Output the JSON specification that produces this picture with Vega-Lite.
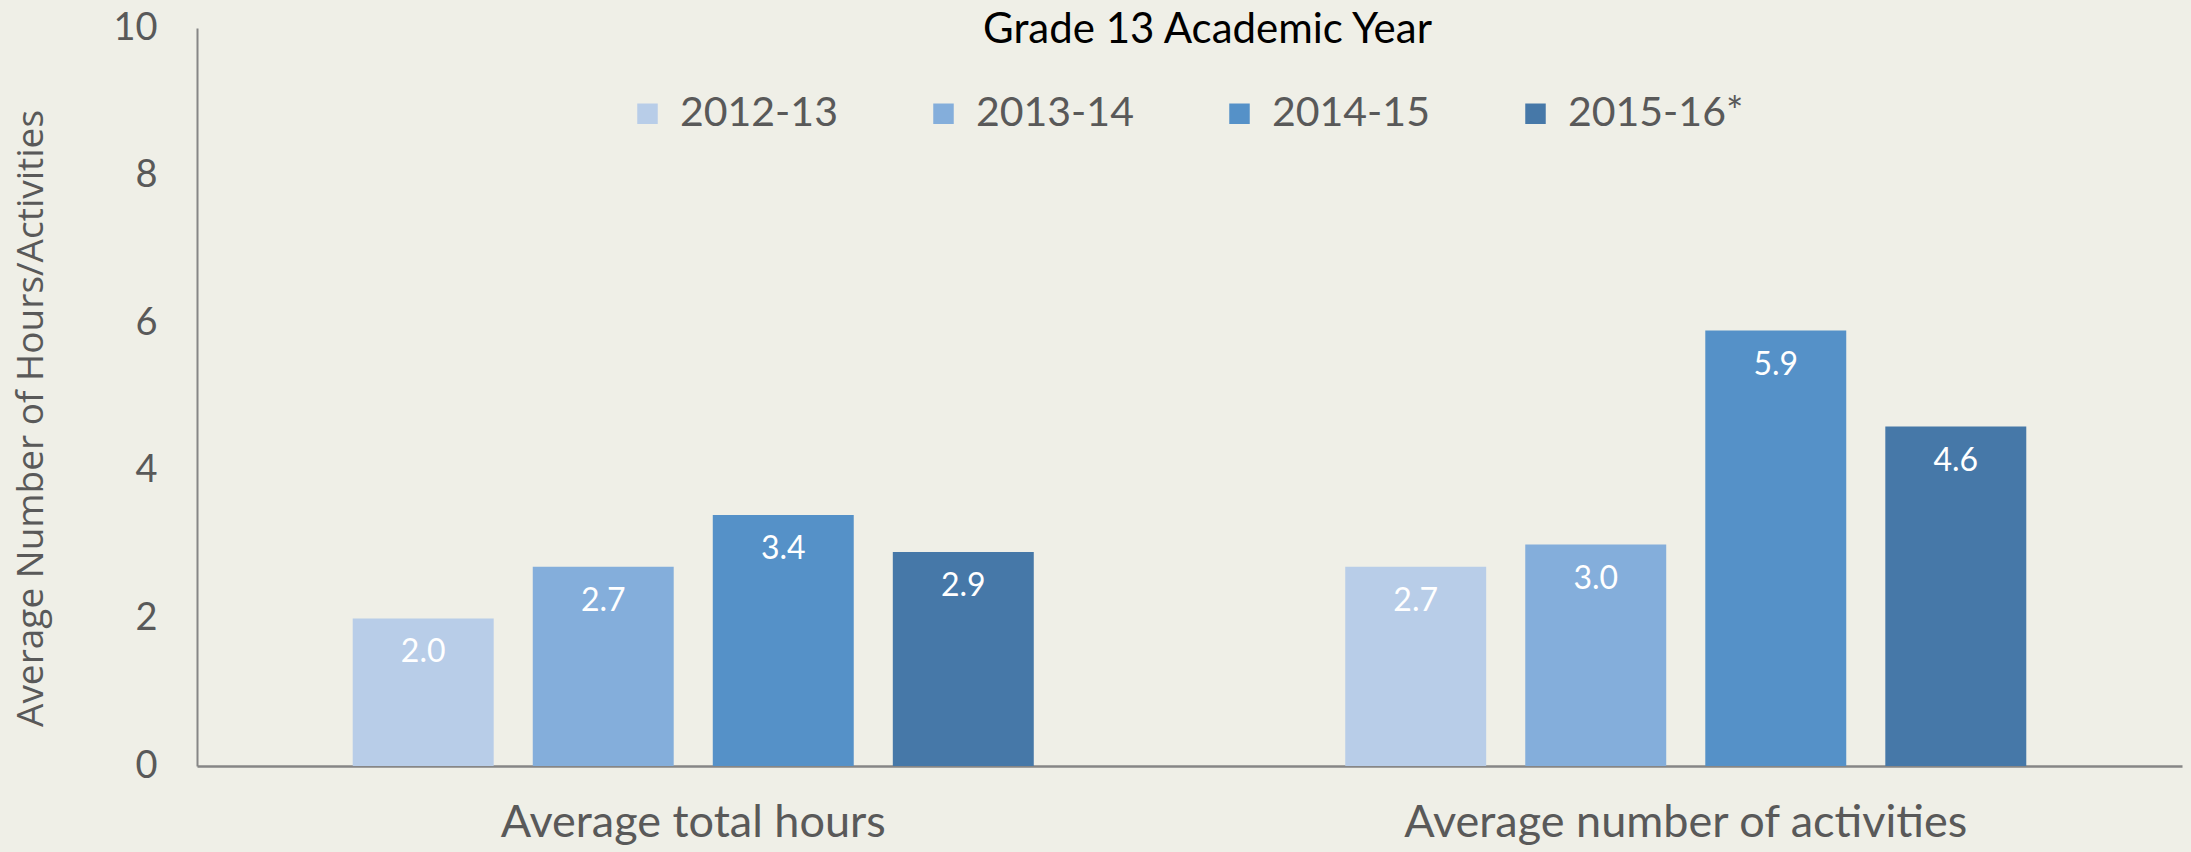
{
  "$schema": "https://vega.github.io/schema/vega-lite/v6.json",
  "autosize": {"type": "none"},
  "width": 1985,
  "height": 738,
  "padding": {"left": 197, "top": 28, "right": 9, "bottom": 86},
  "background": "#EFEFE7",
  "config": {
    "view": {"stroke": null},
    "font": "Lato"
  },
  "title": {
    "text": "Grade 13 Academic Year",
    "font": "Lato",
    "fontSize": 42,
    "fontWeight": "normal",
    "color": "#000000",
    "anchor": "middle",
    "baseline": "middle",
    "offset": 0,
    "dx": 18,
    "dy": 63
  },
  "data": {
    "values": [
      {"measure": "Average total hours", "year": "2012-13", "value": 2.0},
      {"measure": "Average total hours", "year": "2013-14", "value": 2.7},
      {"measure": "Average total hours", "year": "2014-15", "value": 3.4},
      {"measure": "Average total hours", "year": "2015-16*", "value": 2.9},
      {"measure": "Average number of activities", "year": "2012-13", "value": 2.7},
      {"measure": "Average number of activities", "year": "2013-14", "value": 3.0},
      {"measure": "Average number of activities", "year": "2014-15", "value": 5.9},
      {"measure": "Average number of activities", "year": "2015-16*", "value": 4.6}
    ]
  },
  "encoding": {
    "x": {
      "field": "measure",
      "type": "nominal",
      "sort": ["Average total hours", "Average number of activities"],
      "scale": {"paddingInner": 0, "paddingOuter": 0},
      "axis": {
        "title": null,
        "labelAngle": 0,
        "labelFont": "Lato",
        "labelFontSize": 45,
        "labelColor": "#595959",
        "labelPadding": 34,
        "labelLimit": 1000,
        "ticks": false,
        "domainColor": "#868686",
        "domainWidth": 2.5
      }
    },
    "xOffset": {
      "field": "year",
      "type": "nominal",
      "sort": ["2012-13", "2013-14", "2014-15", "2015-16*"],
      "scale": {"paddingInner": 0.217, "paddingOuter": 0.865}
    },
    "y": {
      "field": "value",
      "type": "quantitative",
      "scale": {"domain": [0, 10]},
      "axis": {
        "title": "Average Number of Hours/Activities",
        "titleFont": "Open Sans",
        "titleFontSize": 37,
        "titleFontWeight": "normal",
        "titleColor": "#595959",
        "titleX": -166,
        "titleY": 390,
        "titleAngle": -90,
        "titleAlign": "center",
        "titleBaseline": "middle",
        "values": [0, 2, 4, 6, 8, 10],
        "grid": false,
        "ticks": false,
        "labelFont": "Lato",
        "labelFontSize": 38,
        "labelColor": "#595959",
        "labelPadding": 40,
        "domainColor": "#868686",
        "domainWidth": 2
      }
    }
  },
  "layer": [
    {
      "mark": {"type": "bar"},
      "encoding": {
        "color": {
          "field": "year",
          "type": "nominal",
          "sort": ["2012-13", "2013-14", "2014-15", "2015-16*"],
          "scale": {
            "domain": ["2012-13", "2013-14", "2014-15", "2015-16*"],
            "range": ["#B8CDE8", "#84AEDB", "#5591C8", "#4678A8"]
          },
          "legend": {
            "title": null,
            "orient": "none",
            "direction": "horizontal",
            "legendX": 430,
            "legendY": 65,
            "gridAlign": "all",
            "columnPadding": 67,
            "symbolType": "square",
            "symbolSize": 420,
            "symbolStrokeWidth": 0,
            "labelFont": "Lato",
            "labelFontSize": 41,
            "labelColor": "#595959",
            "labelOffset": 12,
            "labelLimit": 400
          }
        }
      }
    },
    {
      "mark": {
        "type": "text",
        "color": "#FFFFFF",
        "font": "Lato",
        "fontSize": 32,
        "baseline": "middle",
        "dy": 34
      },
      "encoding": {
        "text": {"field": "value", "type": "quantitative", "format": ".1f"}
      }
    }
  ]
}
